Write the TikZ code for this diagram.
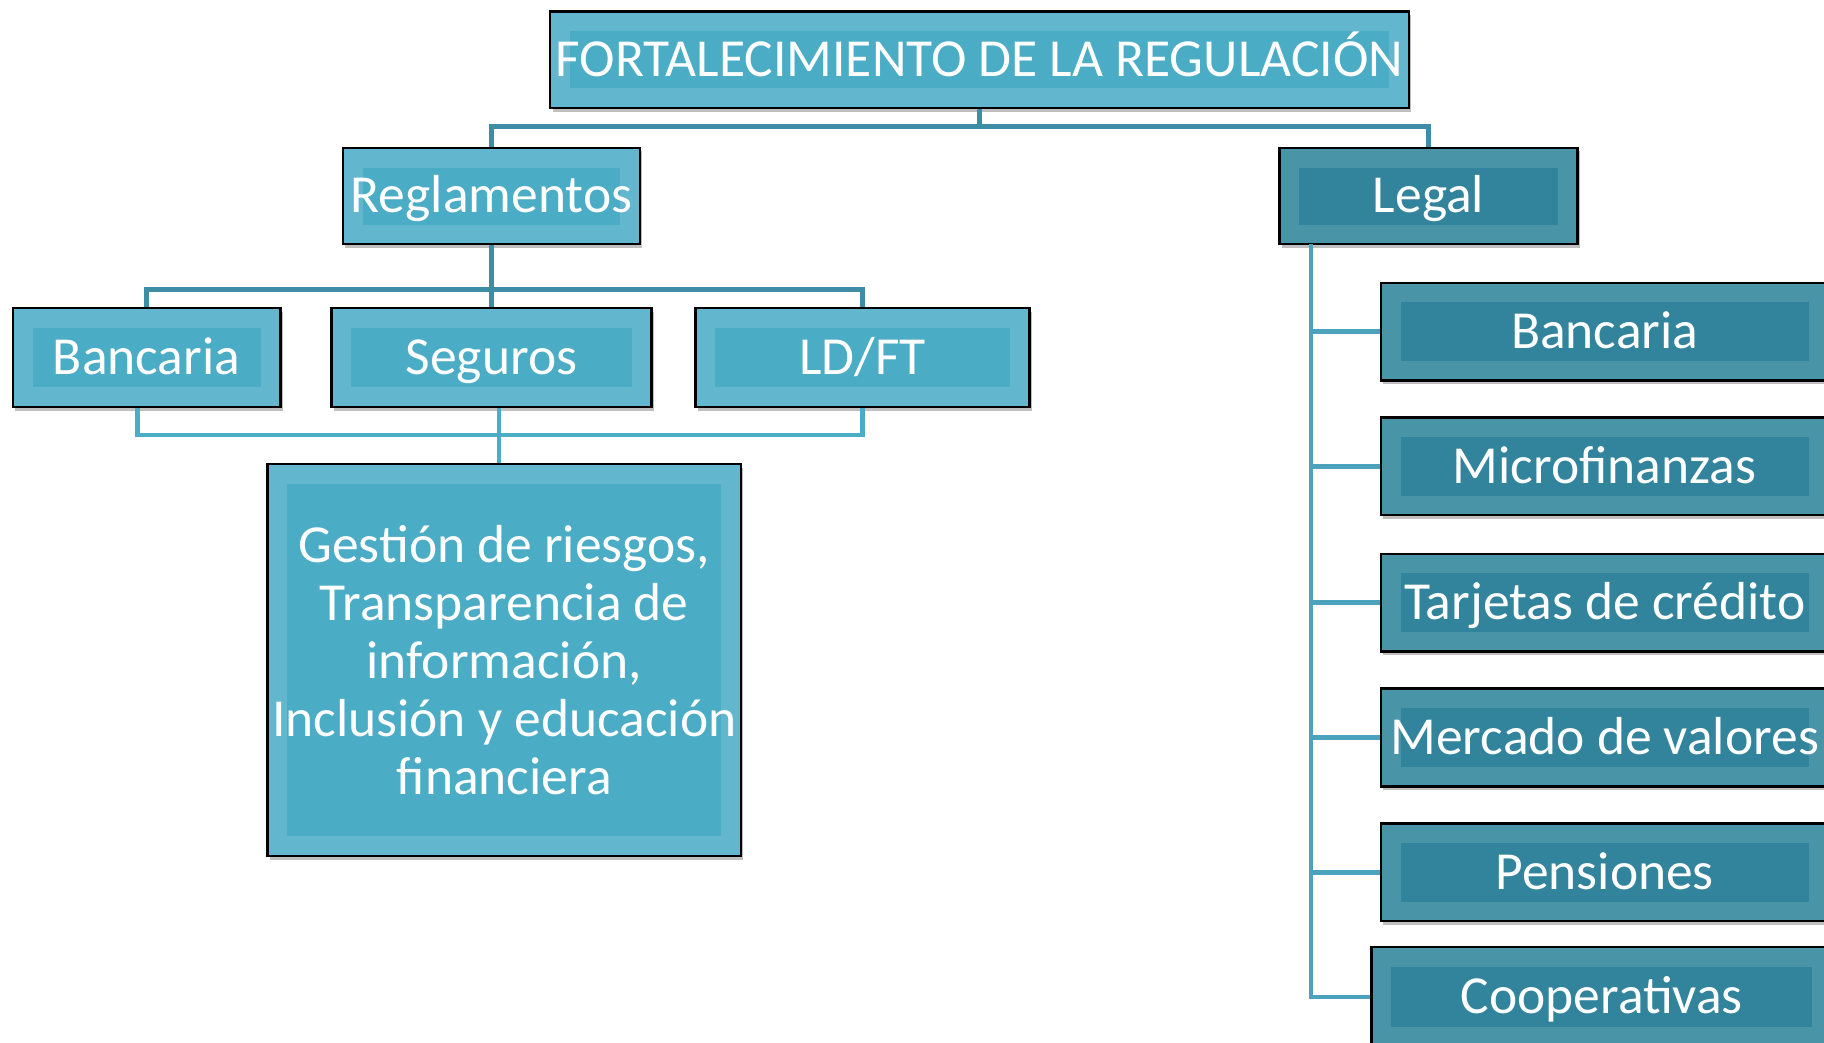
\documentclass[tikz,border=0pt]{standalone}
\usepackage{fontspec}
\setmainfont{Carlito}
\usetikzlibrary{shadows,calc}
\definecolor{lout}{HTML}{62B6CE}
\definecolor{lin}{HTML}{4BACC6}
\definecolor{dout}{HTML}{4A94A8}
\definecolor{din}{HTML}{31849B}
\definecolor{ctop}{HTML}{3D8EA5}
\definecolor{clow}{HTML}{4BACC6}
\definecolor{cspine}{HTML}{4AA2BC}
\begin{document}
\begin{tikzpicture}[x=1pt,y=-1pt,
  box/.style={draw=black, line width=2pt, inner sep=0pt, text=white,
    font=\fontsize{46}{50}\selectfont, align=center,
    text height=36pt, text depth=7pt,
    drop shadow={shadow xshift=2pt,shadow yshift=-3pt,opacity=0.25,fill=black}},
  lightbox/.style={box, fill=lout, path picture={\fill[lin]
    ([shift={(17pt,-17pt)}]path picture bounding box.north west) rectangle
    ([shift={(-17pt,17pt)}]path picture bounding box.south east);}},
  darkbox/.style={box, fill=dout, path picture={\fill[din]
    ([shift={(17pt,-17pt)}]path picture bounding box.north west) rectangle
    ([shift={(-17pt,17pt)}]path picture bounding box.south east);}},
  toplink/.style={draw=ctop, line width=4pt},
  lowlink/.style={draw=clow, line width=4pt},
  spinelink/.style={draw=cspine, line width=4pt}]
\clip (0,0) rectangle (1568,896);
\fill[white] (0,0) rectangle (1568,896);

\coordinate (tj) at (842,109);
\coordinate (rj) at (422.5,249);
\coordinate (bj) at (429,374);
\coordinate (ls) at (1127,210);

\node[lightbox, minimum width=738pt, minimum height=83pt] (title) at (842,51.5) {FORTALECIMIENTO DE LA REGULACIÓN};
\node[lightbox, minimum width=255pt, minimum height=83pt] (regl) at (422.5,168.5) {Reglamentos};
\node[darkbox, minimum width=256pt, minimum height=83pt] (legal) at (1228,168.5) {Legal};

\node[lightbox, minimum width=230pt, minimum height=85pt] (banc) at (126,307.5) {Bancaria};
\node[lightbox, minimum width=275pt, minimum height=85pt] (seg) at (422.5,307.5) {Seguros};
\node[lightbox, minimum width=287pt, minimum height=85pt] (ldft) at (741.5,307.5) {LD/FT};

\node[lightbox, minimum width=407pt, minimum height=337pt, text height=, text depth=] (big) at (433.5,567.5)
  {Gestión de riesgos,\\Transparencia de\\información,\\Inclusión y educación\\financiera};

\node[darkbox, minimum width=385pt, minimum height=84pt] (r1) at (1379.5,285) {Bancaria};
\node[darkbox, minimum width=385pt, minimum height=84pt] (r2) at (1379.5,401) {Microfinanzas};
\node[darkbox, minimum width=385pt, minimum height=84pt] (r3) at (1379.5,518) {Tarjetas de crédito};
\node[darkbox, minimum width=385pt, minimum height=84pt] (r4) at (1379.5,634) {Mercado de valores};
\node[darkbox, minimum width=385pt, minimum height=84pt] (r5) at (1379.5,750) {Pensiones};
\node[darkbox, minimum width=396pt, minimum height=86pt] (r6) at (1377,857) {Cooperativas};

% top level
\draw[toplink] (title.south) -- (tj);
\draw[toplink] (tj) -| (regl.north);
\draw[toplink] (tj) -| (legal.north);
% reglamentos children
\draw[toplink] (regl.south) -- (rj);
\draw[toplink] (rj) -| (banc.north);
\draw[toplink] (rj) -- (seg.north);
\draw[toplink] (rj) -| (ldft.north);
% bottom bracket
\draw[lowlink] ([xshift=-8pt]banc.south) |- (bj);
\draw[lowlink] (ldft.south) |- (bj);
\draw[lowlink] (big.north -| bj) -- (seg.south -| bj);
% legal spine
\draw[spinelink] (ls) |- (r6.west);
\draw[spinelink] (r1.west) -- (r1.west -| ls);
\draw[spinelink] (r2.west) -- (r2.west -| ls);
\draw[spinelink] (r3.west) -- (r3.west -| ls);
\draw[spinelink] (r4.west) -- (r4.west -| ls);
\draw[spinelink] (r5.west) -- (r5.west -| ls);
\end{tikzpicture}
\end{document}
